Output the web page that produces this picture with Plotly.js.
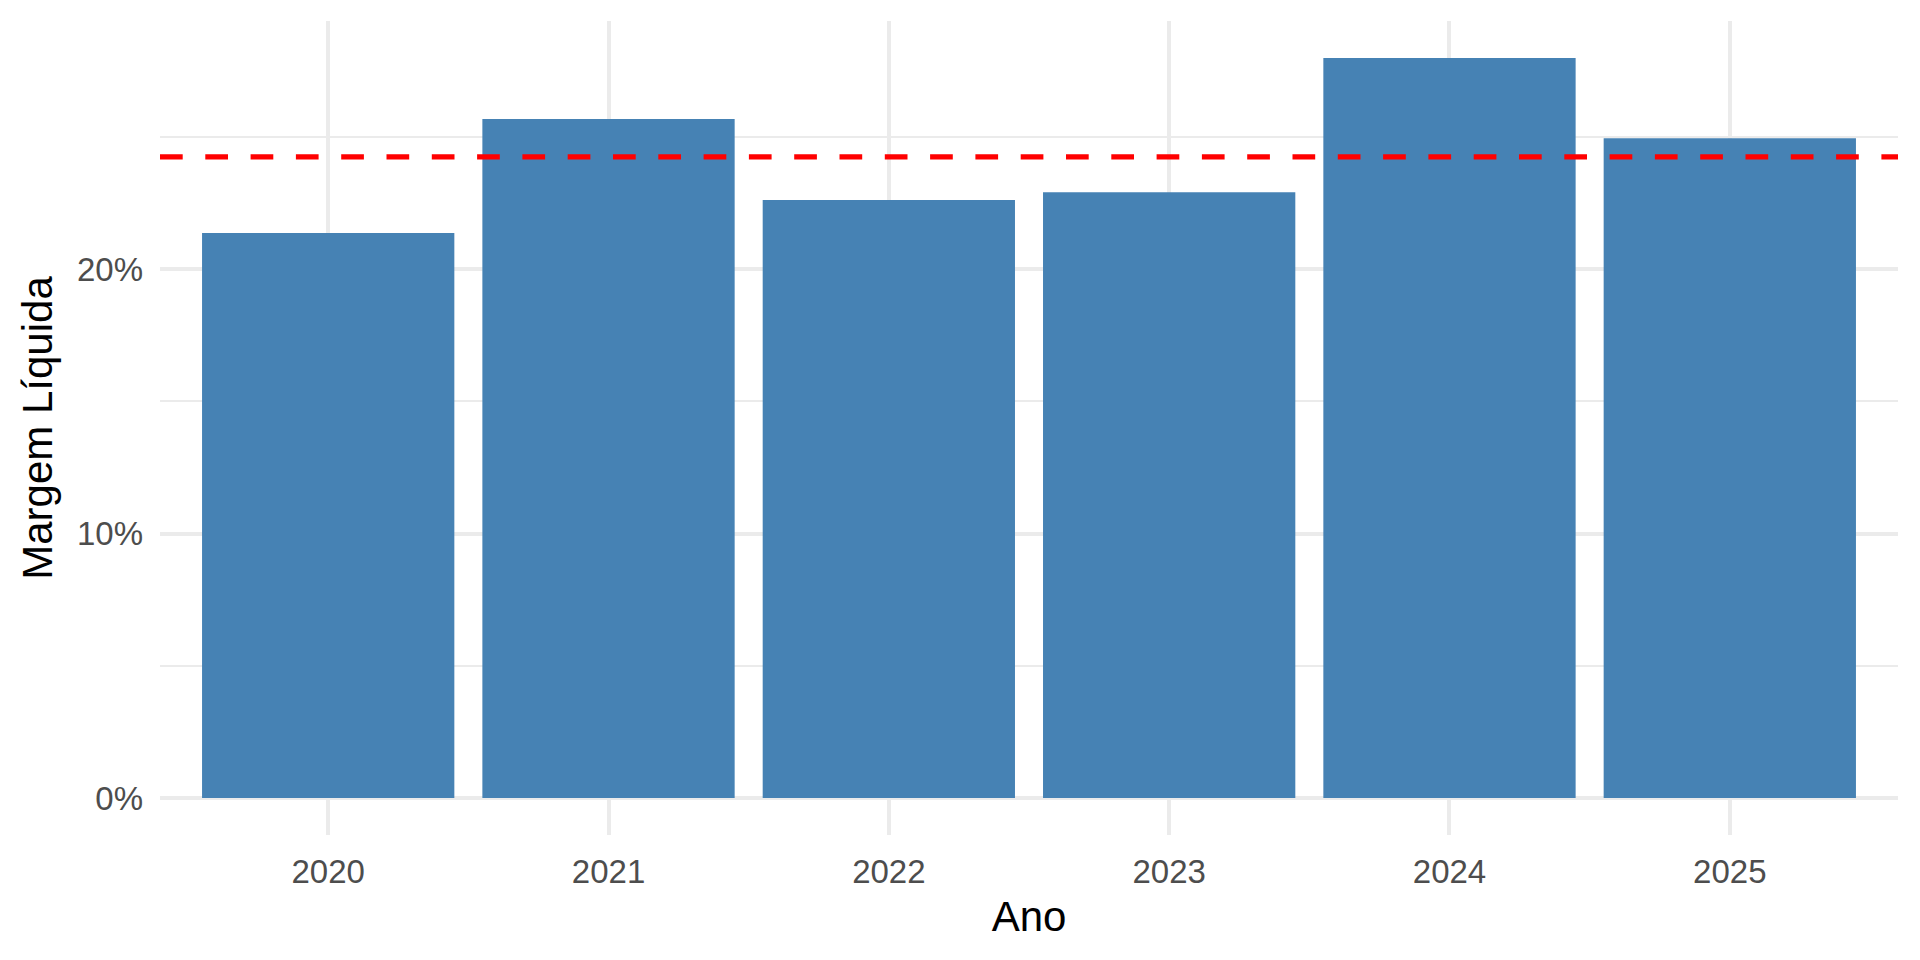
<!DOCTYPE html>
<html>
<head>
<meta charset="utf-8">
<script src="https://cdn.plot.ly/plotly-3.0.1.min.js"></script>
<style>
  html, body { margin: 0; padding: 0; background: #fff; }
  #chart { width: 1920px; height: 960px; }
</style>
</head>
<body>
<div id="chart"></div>
<script>
// Margem líquida por ano (%)
const anos = ['2020', '2021', '2022', '2023', '2024', '2025'];
const margem = [21.36, 25.67, 22.61, 22.90, 27.98, 24.95];
const yTicks = [0, 10, 20];
const yTickText = ['0%', '10%', '20%'];

(function () {
    const media = margem.reduce((a, b) => a + b, 0) / margem.length;
    const maxY = Math.max(...margem, media);
    const pad = maxY * 0.05;

    const grid = '#EBEBEB';
    const font = 'Liberation Sans, Arial, Helvetica, sans-serif';

    const trace = {
        x: anos,
        y: margem,
        type: 'bar',
        marker: {color: '#4682B4', line: {width: 0}},
        width: 0.9,
        hoverinfo: 'x+y',
    };

    const layout = {
        width: 1920,
        height: 960,
        margin: {l: 160, r: 22, t: 21, b: 125},
        paper_bgcolor: '#fff',
        plot_bgcolor: '#fff',
        font: {family: font, size: 33, color: '#4D4D4D'},
        showlegend: false,
        bargap: 0.1,
        xaxis: {
            type: 'category',
            range: [-0.6, anos.length - 0.4],
            showgrid: true,
            gridcolor: grid,
            gridwidth: 3.6,
            showline: false,
            ticks: '',
            ticklabelstandoff: 14,
            tickfont: {family: font, size: 33, color: '#4D4D4D'},
            title: {text: 'Ano', font: {family: font, size: 42, color: '#000'}, standoff: 12},
            automargin: false,
        },
        yaxis: {
            range: [-pad, maxY + pad],
            tickvals: yTicks,
            ticktext: yTickText,
            showgrid: true,
            gridcolor: grid,
            gridwidth: 3.6,
            zeroline: true,
            zerolinecolor: grid,
            zerolinewidth: 3.6,
            minor: {tickvals: [5, 15, 25], showgrid: true, gridcolor: grid, gridwidth: 1.9, ticks: ''},
            showline: false,
            ticks: '',
            ticklabelstandoff: 16,
            tickfont: {family: font, size: 33, color: '#4D4D4D'},
            title: {text: 'Margem Líquida', font: {family: font, size: 42, color: '#000'}, standoff: 11},
            automargin: false,
        },
        shapes: [{
            type: 'line',
            xref: 'paper',
            x0: 0,
            x1: 1,
            yref: 'y',
            y0: media,
            y1: media,
            line: {color: '#FF0000', width: 5.3, dash: '22.7px,22.6px'},
        }],
    };

    Plotly.newPlot('chart', [trace], layout, {displayModeBar: false, responsive: false});
})();
</script>
</body>
</html>
